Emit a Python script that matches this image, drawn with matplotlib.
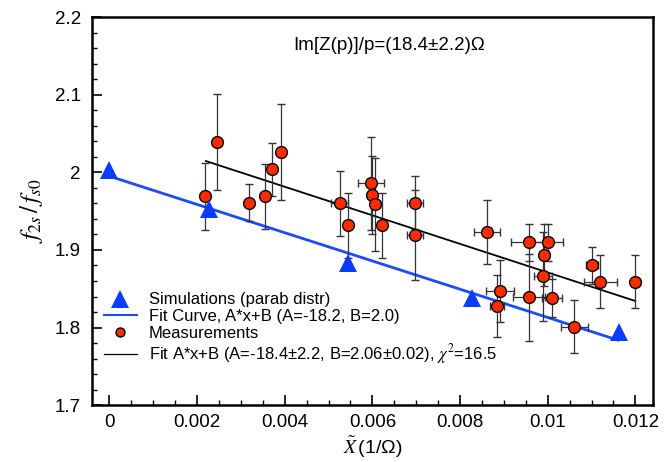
import matplotlib
matplotlib.use('Agg')
import matplotlib.pyplot as plt
from matplotlib.lines import Line2D
from matplotlib.ticker import MultipleLocator
import numpy as np

plt.rcParams['font.family'] = ['Liberation Sans', 'DejaVu Sans']
plt.rcParams['mathtext.fontset'] = 'stix'

# simulations (parabolic distribution)
sim_x = [0.0, 0.00226, 0.00545, 0.00828, 0.01163]
sim_y = [2.003, 1.953, 1.883, 1.838, 1.794]

# linear fits  y = A*x + B
fit_sim_A, fit_sim_B = -18.2, 1.995
fit_sim_range = [0.0, 0.0116]
fit_meas_A, fit_meas_B = -18.4, 2.055
fit_meas_range = [0.0022, 0.0120]

# measurements
meas_x = [0.00217, 0.00246, 0.00318, 0.00356, 0.00371, 0.00392,
          0.00525, 0.00545, 0.00596, 0.00599, 0.00607, 0.00622,
          0.00697, 0.00697, 0.00862, 0.00884, 0.00891, 0.00957,
          0.00957, 0.00989, 0.00992, 0.01001, 0.01010, 0.01061,
          0.01101, 0.01120, 0.01200]
meas_y = [1.969, 2.039, 1.961, 1.969, 2.004, 2.026,
          1.960, 1.932, 1.986, 1.971, 1.959, 1.932,
          1.961, 1.919, 1.923, 1.828, 1.847, 1.910,
          1.839, 1.866, 1.893, 1.910, 1.838, 1.801,
          1.880, 1.859, 1.859]
meas_xerr = [0.00005, 0.00005, 0.00005, 0.00005, 0.00005, 0.00005,
             0.0002, 0.00005, 0.0003, 0.0001, 0.0001, 0.0001,
             0.00018, 0.00018, 0.0003, 0.00016, 0.00032, 0.0004,
             0.00036, 0.0002, 0.0001, 0.00033, 0.00022, 0.0003,
             0.00013, 0.00037, 0.00011]
meas_yerr = [0.043, 0.062, 0.024, 0.042, 0.034, 0.062,
             0.042, 0.042, 0.06, 0.05, 0.06, 0.042,
             0.034, 0.058, 0.041, 0.04, 0.04, 0.024,
             0.056, 0.057, 0.04, 0.024, 0.024, 0.034,
             0.024, 0.034, 0.034]

fig = plt.figure(figsize=(6.71, 4.62), dpi=100)
ax = fig.add_axes([0.137, 0.123, 0.836, 0.840])

ax.errorbar(meas_x, meas_y, xerr=meas_xerr, yerr=meas_yerr, fmt='o',
            color='#ff2a00', markeredgecolor='black', markeredgewidth=1.0,
            markersize=8.5, ecolor='#333333', elinewidth=0.9, capsize=3.2,
            capthick=0.9, zorder=4)

fx = np.array(fit_meas_range)
ax.plot(fx, fit_meas_A * fx + fit_meas_B, color='black', lw=1.3, zorder=3)
sx = np.array(fit_sim_range)
ax.plot(sx, fit_sim_A * sx + fit_sim_B, color='#1a4bff', lw=2.0, zorder=3)
ax.plot(sim_x, sim_y, '^', color='#0a3cff', markersize=13.5, zorder=5,
        markeredgewidth=0)

ax.set_xlim(-0.0004, 0.0124)
ax.set_ylim(1.7, 2.2)
ax.xaxis.set_minor_locator(MultipleLocator(0.0005))
ax.yaxis.set_minor_locator(MultipleLocator(0.02))
ax.set_xticks([0, 0.002, 0.004, 0.006, 0.008, 0.01, 0.012])
ax.set_xticklabels(['0', '0.002', '0.004', '0.006', '0.008', '0.01', '0.012'])
ax.set_yticks([1.7, 1.8, 1.9, 2.0, 2.1, 2.2])
ax.set_yticklabels(['1.7', '1.8', '1.9', '2', '2.1', '2.2'])
ax.tick_params(which='major', direction='in', length=7, width=1.2,
               labelsize=13.5, pad=6)
ax.tick_params(axis='y', which='major', pad=8)
ax.tick_params(which='minor', direction='in', length=3.5, width=1.0)
for s in ax.spines.values():
    s.set_linewidth(1.8)

ax.set_xlabel(r'$\tilde{X}\,$(1/Ω)', fontsize=14, labelpad=3)
ax.set_ylabel(r'$f_{2s}\,/\,f_{s0}$', fontsize=18, labelpad=7)

ax.text(0.53, 0.928, 'Im[Z(p)]/p=(18.4±2.2)Ω', transform=ax.transAxes,
        fontsize=13.5, ha='center', va='center')

handles = [
    Line2D([], [], ls='none', marker='^', color='#0a3cff', markersize=13.5,
           markeredgewidth=0),
    Line2D([], [], color='#1a4bff', lw=1.5),
    Line2D([], [], ls='none', marker='o', color='#ff2a00',
           markeredgecolor='black', markersize=6.5),
    Line2D([], [], color='black', lw=0.9),
]
labels = ['Simulations (parab distr)',
          'Fit Curve, A*x+B (A=-18.2, B=2.0)',
          'Measurements',
          r'Fit A*x+B (A=-18.4±2.2, B=2.06±0.02), $\chi^2$=16.5']
ax.legend(handles, labels, loc='lower left', bbox_to_anchor=(0.0, 0.07),
          frameon=False, fontsize=12, handlelength=2.0, labelspacing=0.1,
          handletextpad=0.7, borderaxespad=0.3)

fig.savefig('out.png', dpi=100)
